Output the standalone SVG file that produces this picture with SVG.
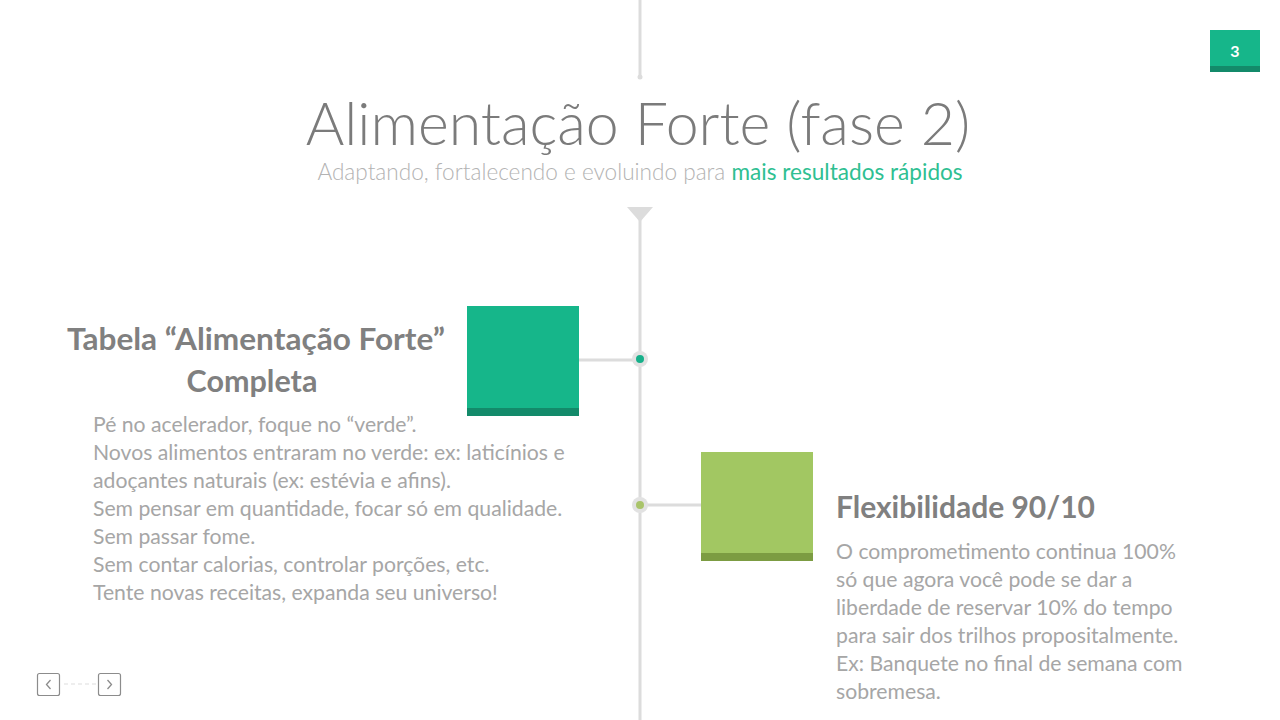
<svg xmlns="http://www.w3.org/2000/svg" width="1280" height="720" viewBox="0 0 1280 720">
<defs>
<style>
.title{font-family:Lato,"Open Sans",sans-serif;font-weight:300;fill:#7b7b7b}
.sub{font-family:Lato,"Open Sans",sans-serif;font-weight:300;fill:#b3b3b3}
.head{font-family:Lato,"Open Sans",sans-serif;font-weight:700;fill:#808080}
.body{font-family:Lato,"Open Sans",sans-serif;font-weight:400;fill:#a6a6a6;font-size:21.2px}
.line{stroke:#dcdcdc;stroke-width:3;fill:none}
.navbox{fill:#fff;stroke:#8c8c8c;stroke-width:1.2}
</style>
</defs>
<rect width="1280" height="720" fill="#ffffff"/>

<g id="connectors">
<line class="line" x1="640" y1="0" x2="640" y2="76"/>
<circle cx="640" cy="77" r="2.5" fill="#dcdcdc"/>
<line class="line" x1="640" y1="215" x2="640" y2="720"/>
<polygon points="627,207 653,207 640,222" fill="#dcdcdc"/>
<line class="line" x1="579" y1="360" x2="640" y2="360"/>
<line class="line" x1="640" y1="505" x2="701" y2="505"/>
</g>

<g id="title">
<text class="title" x="638" y="145" font-size="59" text-anchor="middle">Alimentação Forte (fase 2)</text>
<text class="sub" x="640" y="180" font-size="22.6" text-anchor="middle">Adaptando, fortalecendo e evoluindo para <tspan fill="#2fbf92" font-weight="400">mais resultados rápidos</tspan></text>
</g>

<g id="dot1">
<circle cx="640" cy="359" r="8" fill="#e2e2e2"/>
<circle cx="640" cy="359" r="4" fill="#17b08a"/>
</g>
<g id="dot2">
<circle cx="640" cy="505" r="8" fill="#e2e2e2"/>
<circle cx="640" cy="505" r="4" fill="#a9c46a"/>
</g>

<g id="node1">
<rect x="467" y="306" width="112" height="110" fill="#16b68a"/>
<rect x="467" y="408" width="112" height="8" fill="#138a6a"/>
<text class="head" x="67" y="350" font-size="30.5" textLength="378" lengthAdjust="spacingAndGlyphs">Tabela “Alimentação Forte”</text>
<text class="head" x="252" y="392" font-size="30.5" text-anchor="middle">Completa</text>
<text class="body">
<tspan x="93" y="432">Pé no acelerador, foque no “verde”.</tspan>
<tspan x="93" y="460">Novos alimentos entraram no verde: ex: laticínios e</tspan>
<tspan x="93" y="488">adoçantes naturais (ex: estévia e afins).</tspan>
<tspan x="93" y="516">Sem pensar em quantidade, focar só em qualidade.</tspan>
<tspan x="93" y="544">Sem passar fome.</tspan>
<tspan x="93" y="572">Sem contar calorias, controlar porções, etc.</tspan>
<tspan x="93" y="600">Tente novas receitas, expanda seu universo!</tspan>
</text>
</g>

<g id="node2">
<rect x="701" y="452" width="112" height="109" fill="#a2c762"/>
<rect x="701" y="553" width="112" height="8" fill="#7c9c42"/>
<text class="head" x="836" y="518" font-size="30.5" textLength="259" lengthAdjust="spacingAndGlyphs">Flexibilidade 90/10</text>
<text class="body">
<tspan x="836" y="559">O comprometimento continua 100%</tspan>
<tspan x="836" y="587">só que agora você pode se dar a</tspan>
<tspan x="836" y="615">liberdade de reservar 10% do tempo</tspan>
<tspan x="836" y="643">para sair dos trilhos propositalmente.</tspan>
<tspan x="836" y="671">Ex: Banquete no final de semana com</tspan>
<tspan x="836" y="699">sobremesa.</tspan>
</text>
</g>

<g id="page-number">
<rect x="1210" y="30" width="50" height="42" fill="#16b68a"/>
<rect x="1210" y="66" width="50" height="6" fill="#138a6a"/>
<text x="1235" y="57" font-family="Lato,'Open Sans',sans-serif" font-weight="700" font-size="16" fill="#ffffff" text-anchor="middle">3</text>
</g>

<g id="nav">
<rect class="navbox" x="37.5" y="673.5" width="22" height="22" rx="2"/>
<polyline points="50.5,680 46.5,684.5 50.5,689" fill="none" stroke="#8c8c8c" stroke-width="1.3"/>
<line x1="64" y1="684" x2="96" y2="684" stroke="#dddddd" stroke-width="1" stroke-dasharray="4,3"/>
<rect class="navbox" x="98.5" y="673.5" width="22" height="22" rx="2"/>
<polyline points="107.5,680 111.5,684.5 107.5,689" fill="none" stroke="#8c8c8c" stroke-width="1.3"/>
</g>
</svg>
